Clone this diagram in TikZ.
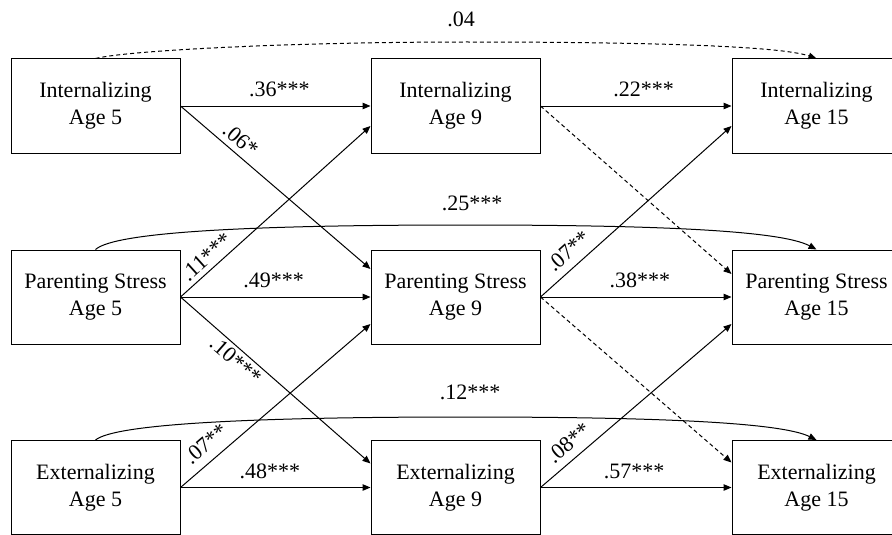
\documentclass[tikz,border=0pt]{standalone}
\usepackage{fontspec}
\setmainfont{Liberation Serif}
\usetikzlibrary{arrows.meta,calc}
\begin{document}
\begin{tikzpicture}[x=1pt,y=-1pt,
  box/.style={draw, line width=1pt, minimum width=169pt, minimum height=94pt, align=center, inner sep=0pt, font=\fontsize{22}{27}\selectfont},
  arr/.style={line width=1pt, -{Triangle[length=8pt,width=6.5pt]}},
  arrd/.style={arr, dash pattern=on 4pt off 3pt},
  lbl/.style={font=\fontsize{22}{27}\selectfont, inner sep=2pt, text height=14pt, text depth=0pt}
]
\useasboundingbox (0,0) rectangle (892,535);

\node[box] (i5) at (95.5,106) {Internalizing\\Age 5};
\node[box] (i9) at (455.5,106) {Internalizing\\Age 9};
\node[box] (i15) at (816.5,106) {Internalizing\\Age 15};
\node[box] (p5) at (95.5,297) {Parenting Stress\\Age 5};
\node[box] (p9) at (455.5,297) {Parenting Stress\\Age 9};
\node[box] (p15) at (816.5,297) {Parenting Stress\\Age 15};
\node[box] (e5) at (95.5,487.5) {Externalizing\\Age 5};
\node[box] (e9) at (455.5,487.5) {Externalizing\\Age 9};
\node[box] (e15) at (816.5,487.5) {Externalizing\\Age 15};

% Age 5 -> Age 9
\draw[arr] (i5.east) -- node[lbl,above=7pt,pos=0.52]{.36***} (i9.west);
\draw[arr] (i5.east) -- node[lbl,sloped,above=4pt,pos=0.27]{.06*} ($(p9.west)+(0,-28)$);
\draw[arr] (p5.east) -- node[lbl,sloped,above=3pt,pos=0.18]{.11***} ($(i9.west)+(0,20)$);
\draw[arr] (p5.east) -- node[lbl,above=7pt,pos=0.49]{.49***} (p9.west);
\draw[arr] (p5.east) -- node[lbl,sloped,below=2pt,pos=0.33]{.10***} ($(e9.west)+(0,-24)$);
\draw[arr] (e5.east) -- node[lbl,sloped,above=7pt,pos=0.19]{.07**} ($(p9.west)+(0,27)$);
\draw[arr] (e5.east) -- node[lbl,above=7pt,pos=0.47]{.48***} (e9.west);

% Age 9 -> Age 15
\draw[arr] (i9.east) -- node[lbl,above=7pt,pos=0.54]{.22***} (i15.west);
\draw[arrd] (i9.east) -- ($(p15.west)+(0,-23)$);
\draw[arr] (p9.east) -- node[lbl,sloped,above=6pt,pos=0.2]{.07**} ($(i15.west)+(0,20)$);
\draw[arr] (p9.east) -- node[lbl,above=7pt,pos=0.52]{.38***} (p15.west);
\draw[arrd] (p9.east) -- ($(e15.west)+(0,-25)$);
\draw[arr] (e9.east) -- node[lbl,sloped,above=6pt,pos=0.2]{.08**} ($(p15.west)+(0,27)$);
\draw[arr] (e9.east) -- node[lbl,above=7pt,pos=0.49]{.57***} (e15.west);

% Age 5 -> Age 15
\draw[arrd] (i5.north) .. controls (130,50) and (300,42) .. (465,42)
  node[lbl,above=13pt,xshift=-4pt]{.04}
  .. controls (650,42) and (780,46) .. (i15.north);
\draw[arr] (p5.north) .. controls (115,232) and (250,225) .. (465,225)
  node[lbl,above=12pt,xshift=7pt]{.25***}
  .. controls (650,225) and (780,230) .. (p15.north);
\draw[arr] (e5.north) .. controls (115,424) and (250,417) .. (465,417)
  node[lbl,above=15pt,xshift=5pt]{.12***}
  .. controls (650,417) and (780,422) .. (e15.north);
\end{tikzpicture}
\end{document}
